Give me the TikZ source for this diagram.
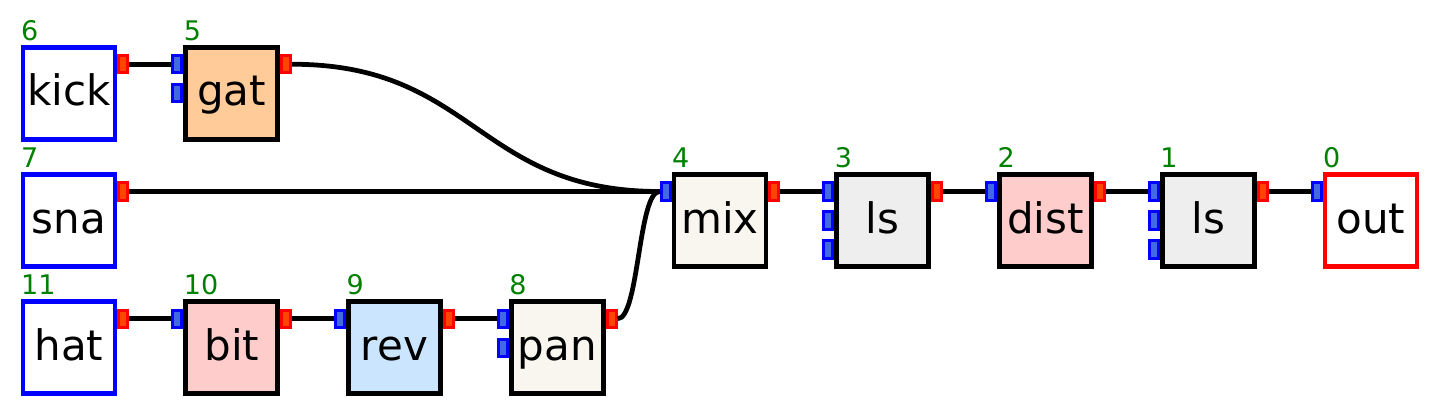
\documentclass[tikz,border=0pt]{standalone}
\usepackage{fontspec}
\setmainfont{DejaVu Sans}
\definecolor{srcblue}{RGB}{0,0,255}
\definecolor{sinkred}{RGB}{255,0,0}
\definecolor{numgreen}{RGB}{0,128,0}
\definecolor{inblue}{RGB}{65,105,225}
\definecolor{outorange}{RGB}{255,69,0}
\definecolor{gatfill}{RGB}{255,204,153}
\definecolor{bitfill}{RGB}{255,204,204}
\definecolor{revfill}{RGB}{204,229,255}
\definecolor{panfill}{RGB}{248,246,238}
\definecolor{lsfill}{RGB}{238,238,238}

\tikzset{
  blockbox/.style={rectangle, draw=black, line width=4.75pt, minimum size=92pt,
    inner sep=0pt, outer sep=0pt, font=\fontsize{42}{42}\selectfont,
    text height=30pt, text depth=4.5pt},
  srcbox/.style={blockbox, draw=srcblue},
  sinkbox/.style={blockbox, draw=sinkred},
  opbox/.style={blockbox},
  inport/.style={rectangle, draw=srcblue, fill=inblue, line width=3pt,
    minimum width=9pt, minimum height=17.5pt, inner sep=0pt, outer sep=1.5pt},
  outport/.style={inport, draw=sinkred, fill=outorange},
  numlabel/.style={text=numgreen, font=\fontsize{27}{27}\selectfont,
    inner sep=0pt, anchor=base west},
  wire/.style={line width=4.75pt, black}
}

\begin{document}
\begin{tikzpicture}[x=1pt, y=-1pt]
  \useasboundingbox (0,0) rectangle (1440,417);

  % blocks and their numbers
  \foreach \name/\txt/\num/\col/\row/\kind/\fillc in {kick/kick/6/0/0/srcbox/white, sna/sna/7/0/1/srcbox/white, hat/hat/11/0/2/srcbox/white, gat/gat/5/1/0/opbox/gatfill, bit/bit/10/1/2/opbox/bitfill, rev/rev/9/2/2/opbox/revfill, pan/pan/8/3/2/opbox/panfill, mix/mix/4/4/1/opbox/panfill, lsa/ls/3/5/1/opbox/lsfill, dist/dist/2/6/1/opbox/bitfill, lsb/ls/1/7/1/opbox/lsfill, out/out/0/8/1/sinkbox/white}{
    \node[\kind, fill=\fillc] (\name) at ({69+162.75*\col}, {93.25+127.25*\row}) {\txt};
    \node[numlabel] (\name-num) at ([xshift=-2pt, yshift=7pt]\name.north west) {\num};
  }

  % ports
  \foreach \name/\i in {gat/1, gat/2, bit/1, rev/1, pan/1, pan/2, mix/1, lsa/1, lsa/2, lsa/3, dist/1, lsb/1, lsb/2, lsb/3, out/1}
    \node[inport] (\name-i\i) at ([xshift=-8.4pt, yshift={(2-\i)*29pt}]\name.west) {};
  \foreach \name in {kick, sna, hat, gat, bit, rev, pan, mix, lsa, dist, lsb}
    \node[outport] (\name-o) at ([xshift=8.4pt, yshift=29pt]\name.east) {};

  % wires
  \foreach \a/\b in {kick-o/gat-i1, sna-o/mix-i1, hat-o/bit-i1, bit-o/rev-i1, rev-o/pan-i1, mix-o/lsa-i1, lsa-o/dist-i1, dist-o/lsb-i1, lsb-o/out-i1}
    \draw[wire] (\a.east) -- (\b.west);
  \draw[wire] (gat-o.east) to[out=0, in=180, looseness=1.2] (mix-i1.west);
  \draw[wire] (pan-o.east) to[out=0, in=180, looseness=0.41] (mix-i1.west);
\end{tikzpicture}
\end{document}
